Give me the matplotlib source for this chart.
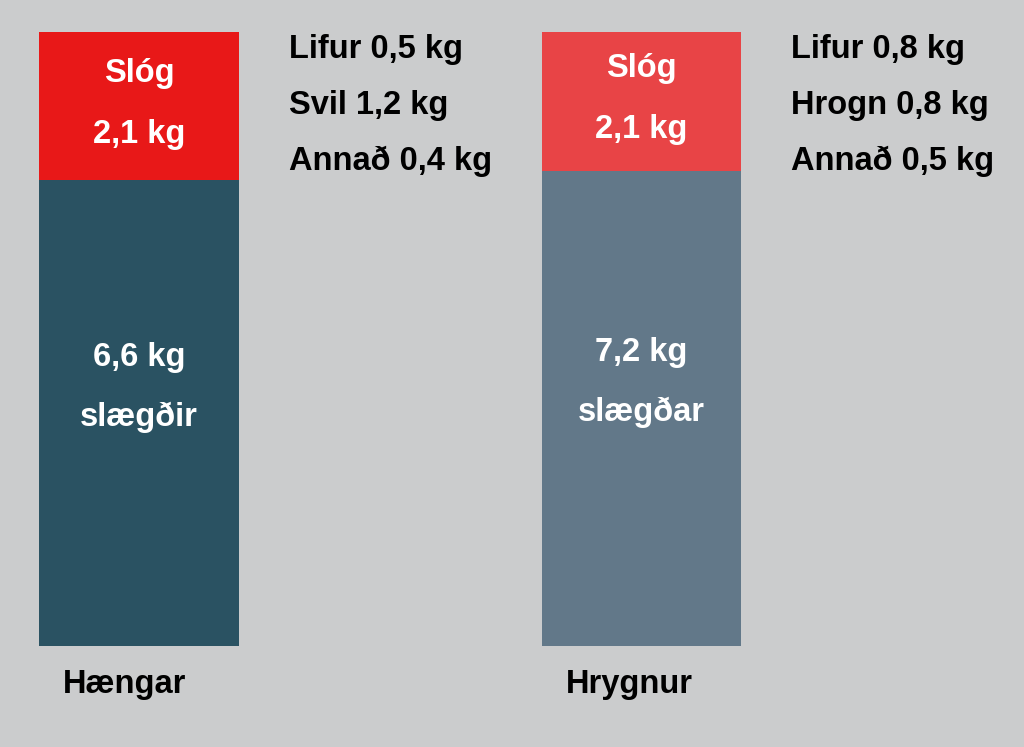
import numpy as np
import matplotlib
matplotlib.use("Agg")
import matplotlib.pyplot as plt

# ---- data ----
categories = ["Hængar", "Hrygnur"]
gutted_kg = [6.6, 7.2]
gutted_label = ["slægðir", "slægðar"]
offal_kg = [2.1, 2.1]
offal_label = "Slóg"
organ_names = [["Lifur", "Svil", "Annað"], ["Lifur", "Hrogn", "Annað"]]
organ_kg = [[0.5, 1.2, 0.4], [0.8, 0.8, 0.5]]

# ---- style ----
bg = "#cbcccd"
gutted_colors = ["#2a5262", "#627889"]
offal_colors = ["#e81818", "#e84446"]
font = ["Liberation Sans", "DejaVu Sans"]
fs = 23.5

def kg(v):
    return f"{v:.1f}".replace(".", ",") + " kg"

fig = plt.figure(figsize=(10.24, 7.47), dpi=100, facecolor=bg)
ax = fig.add_axes([0, 101 / 747, 1, 614 / 747])
ax.set_facecolor(bg)
ax.set_xlim(-139 / 502.5, (1024 - 139) / 502.5)
ax.set_ylim(0, 1)
ax.axis("off")

x = np.arange(len(categories))
width = 0.398
g = np.array(gutted_kg)
o = np.array(offal_kg)
tot = g + o
sg = g / tot
so = o / tot

ax.bar(x, sg, width, color=gutted_colors, linewidth=0)
ax.bar(x, so, width, bottom=sg, color=offal_colors, linewidth=0)

tk = dict(fontsize=fs, fontweight="bold", family=font, textcoords="offset pixels",
          va="baseline", annotation_clip=False)

for i, xi in enumerate(x):
    # offal segment
    cy = sg[i] + so[i] / 2
    ax.annotate(offal_label, xy=(xi, cy), xytext=(0, 24), ha="center", color="white", **tk)
    ax.annotate(kg(offal_kg[i]), xy=(xi, cy), xytext=(0, -37), ha="center", color="white", **tk)
    # gutted segment
    cy = sg[i] / 2
    ax.annotate(kg(gutted_kg[i]), xy=(xi, cy), xytext=(0, 47), ha="center", color="white", **tk)
    ax.annotate(gutted_label[i], xy=(xi, cy), xytext=(0, -13), ha="center", color="white", **tk)
    # organ list
    for j, (nm, v) in enumerate(zip(organ_names[i], organ_kg[i])):
        ax.annotate(f"{nm} {kg(v)}", xy=(xi + width / 2, 1.0), xytext=(50, -26 - 56 * j),
                    ha="left", color="black", **tk)
    # category label
    ax.annotate(categories[i], xy=(xi - width / 2, 0), xytext=(24, -47), ha="left",
                color="black", **tk)

fig.savefig("out.png", dpi=100, facecolor=bg)
